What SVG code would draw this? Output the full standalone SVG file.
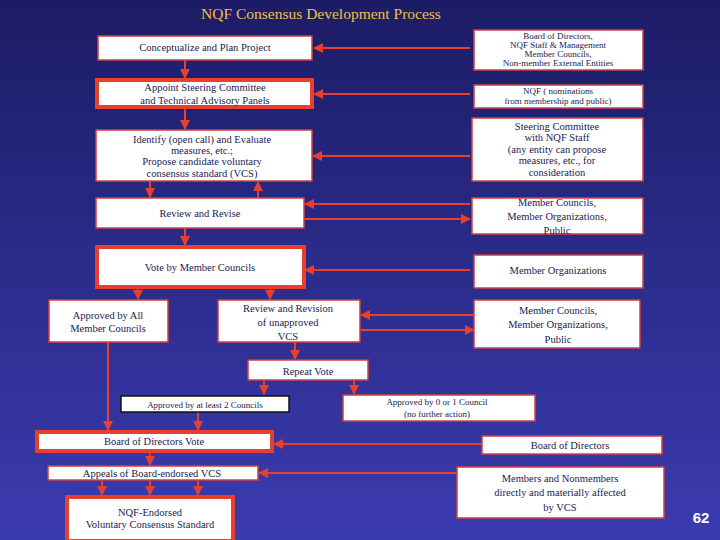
<svg xmlns="http://www.w3.org/2000/svg" width="720" height="540" viewBox="0 0 720 540">
<defs>
<linearGradient id="bg" x1="0" y1="0" x2="0" y2="1"><stop offset="0" stop-color="#1c1c66"/><stop offset="1" stop-color="#3b3bb0"/></linearGradient>
<marker id="ah" viewBox="0 0 10 10" refX="9" refY="5" markerWidth="5" markerHeight="5" orient="auto"><path d="M0,0L10,5L0,10z" fill="#e8402c"/></marker>
</defs>
<style>
.b rect{fill:#fff;stroke:#d04040;stroke-width:1.5}
.t rect{fill:#fff;stroke:#e8402c;stroke-width:4}
text{font-family:'Liberation Serif','Times New Roman','DejaVu Serif',serif;font-size:10.5px;fill:#1a1a50;text-anchor:middle}
.s{font-size:9px}
#c path{stroke:#e8402c;stroke-width:2;fill:none;marker-end:url(#ah)}
</style>
<rect width="720" height="540" fill="url(#bg)"/>
<text x="321" y="19" font-family="Liberation Serif, serif" style="font-size:15.5px;fill:#f0c040">NQF Consensus Development Process</text>
<text x="701" y="523" style="font-family:'Liberation Sans',sans-serif;font-size:15px;font-weight:bold;fill:#fff">62</text>
<g id="c">
<path d="M470,48H314"/><path d="M470,94H314"/><path d="M470,156H313"/>
<path d="M470,204H305"/><path d="M305,219H470"/><path d="M470,270H305"/>
<path d="M474,315H361"/><path d="M361,330H474"/><path d="M482,444H274"/><path d="M457,473H259"/>
<path d="M185,60V78"/><path d="M185,108V129"/><path d="M150,181V197"/><path d="M258,198V182"/>
<path d="M185,228V245"/><path d="M138,287V299"/><path d="M270,287V299"/><path d="M108,342V430"/>
<path d="M295,342V359"/><path d="M264,380V394"/><path d="M354,380V394"/><path d="M198,412V430"/>
<path d="M150,451V465"/><path d="M102,480V495"/><path d="M150,480V495"/><path d="M198,480V495"/>
</g>
<g id="n1" class="b"><rect x="98" y="36" width="214" height="24"/><text x="205" y="51">Conceptualize and Plan Project</text></g>
<g id="r1" class="b"><rect x="474" y="30" width="169" height="40"/><text class="s" x="558" y="39">Board of Directors,</text><text class="s" x="558" y="48">NQF Staff &amp; Management</text><text class="s" x="558" y="57">Member Councils,</text><text class="s" x="558" y="66">Non-member External Entities</text></g>
<g id="n2" class="t"><rect x="97" y="80" width="215" height="27"/><text x="205" y="91">Appoint Steering Committee</text><text x="205" y="104">and Technical Advisory Panels</text></g>
<g id="r2" class="b"><rect x="474" y="85" width="169" height="23"/><text class="s" x="558" y="94">NQF  ( nominations</text><text class="s" x="558" y="104">from membership and public)</text></g>
<g id="n3" class="b"><rect x="96" y="130" width="216" height="51"/><text x="202" y="143">Identify (open call) and Evaluate</text><text x="202" y="154">measures, etc.;</text><text x="202" y="165">Propose candidate voluntary</text><text x="202" y="177">consensus standard (VCS)</text></g>
<g id="r3" class="b"><rect x="472" y="118" width="171" height="63"/><text x="557" y="130">Steering Committee</text><text x="557" y="141">with NQF Staff</text><text x="557" y="153">(any entity can propose</text><text x="557" y="164">measures, etc., for</text><text x="557" y="176">consideration</text></g>
<g id="n4" class="b"><rect x="96" y="198" width="208" height="30"/><text x="200" y="217">Review and Revise</text></g>
<g id="r4" class="b"><rect x="472" y="198" width="171" height="36"/><text x="557" y="206">Member Councils,</text><text x="557" y="220">Member Organizations,</text><text x="557" y="234">Public</text></g>
<g id="n5" class="t"><rect x="97" y="247" width="207" height="40"/><text x="200" y="271">Vote by  Member Councils</text></g>
<g id="r5" class="b"><rect x="474" y="255" width="169" height="33"/><text x="558" y="274">Member Organizations</text></g>
<g id="n6" class="b"><rect x="49" y="300" width="119" height="42"/><text x="108" y="319">Approved by All</text><text x="108" y="332">Member Councils</text></g>
<g id="n7" class="b"><rect x="218" y="300" width="142" height="42"/><text x="288" y="312">Review and Revision</text><text x="288" y="326">of unapproved</text><text x="288" y="340">VCS</text></g>
<g id="r7" class="b"><rect x="474" y="300" width="166" height="48"/><text x="558" y="314">Member Councils,</text><text x="558" y="328">Member Organizations,</text><text x="558" y="343">Public</text></g>
<g id="n8" class="b"><rect x="248" y="360" width="120" height="20"/><text x="308" y="375">Repeat Vote</text></g>
<g id="n9" class="b"><rect x="121" y="396" width="168" height="16" style="stroke:#111"/><text class="s" x="205" y="408">Approved by at least 2 Councils</text></g>
<g id="n10" class="b"><rect x="343" y="395" width="192" height="26"/><text class="s" x="437" y="405">Approved by 0 or 1 Council</text><text class="s" x="437" y="417">(no further action)</text></g>
<g id="n11" class="t"><rect x="37" y="432" width="235" height="19"/><text x="154" y="445">Board of Directors Vote</text></g>
<g id="r11" class="b"><rect x="482" y="436" width="180" height="18"/><text x="570" y="449">Board of Directors</text></g>
<g id="n12" class="b"><rect x="48" y="466" width="210" height="14"/><text x="152" y="477">Appeals of Board-endorsed VCS</text></g>
<g id="r12" class="b"><rect x="457" y="467" width="207" height="51"/><text x="560" y="482">Members and Nonmembers</text><text x="560" y="496">directly and materially affected</text><text x="560" y="511">by VCS</text></g>
<g id="n13" class="t"><rect x="67" y="497" width="166" height="44"/><text x="150" y="516">NQF-Endorsed</text><text x="150" y="528">Voluntary Consensus Standard</text></g>
</svg>
